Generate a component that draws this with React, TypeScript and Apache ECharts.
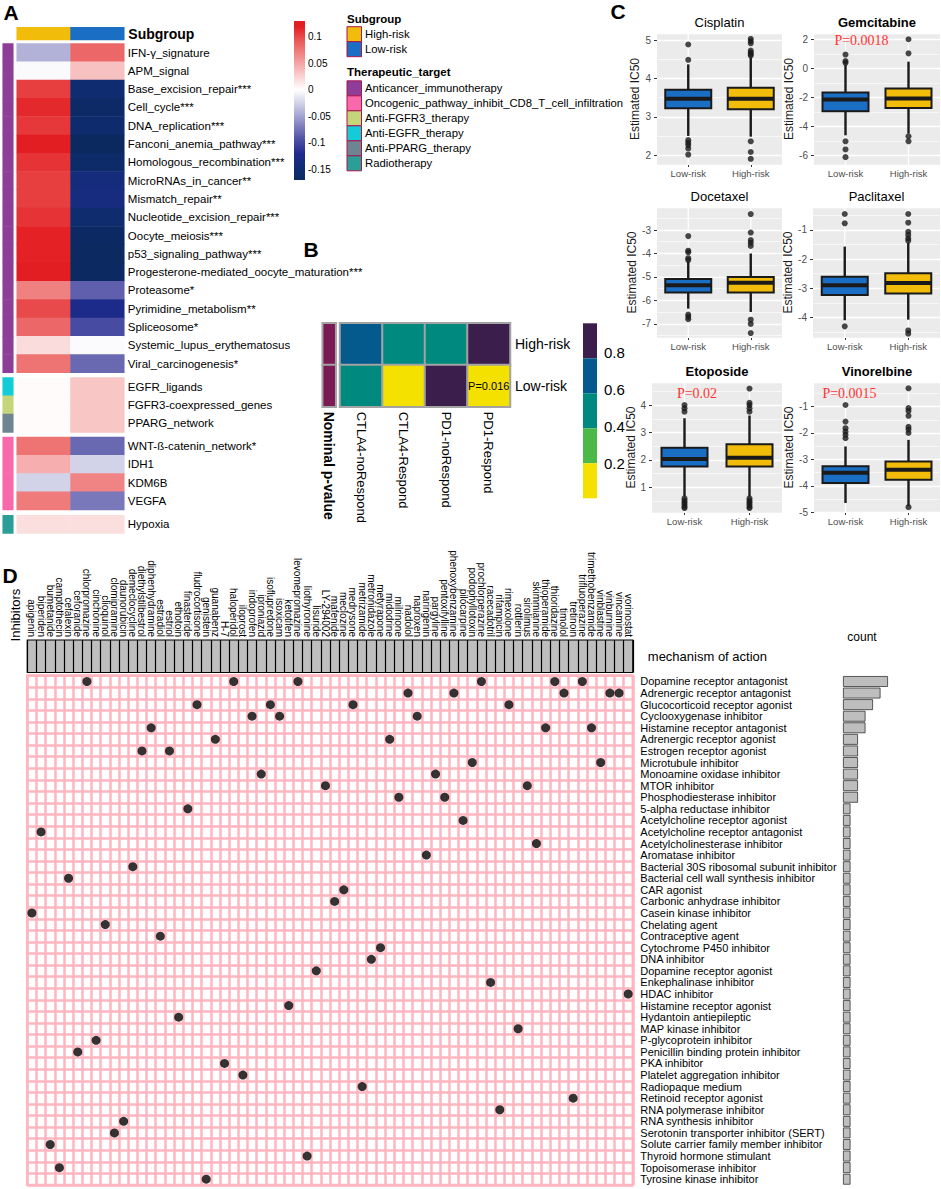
import React, { useEffect, useRef } from "react";
import * as echarts from "echarts";

// ---------------- Panel A data ----------------
const pathways = [
  "IFN-γ_signature", "APM_signal", "Base_excision_repair***", "Cell_cycle***", "DNA_replication***",
  "Fanconi_anemia_pathway***", "Homologous_recombination***", "MicroRNAs_in_cancer**", "Mismatch_repair**",
  "Nucleotide_excision_repair***", "Oocyte_meiosis***", "p53_signaling_pathway***",
  "Progesterone-mediated_oocyte_maturation***", "Proteasome*", "Pyrimidine_metabolism**", "Spliceosome*",
  "Systemic_lupus_erythematosus", "Viral_carcinogenesis*",
  "EGFR_ligands", "FGFR3-coexpressed_genes", "PPARG_network",
  "WNT-ß-catenin_network*", "IDH1", "KDM6B", "VEGFA",
  "Hypoxia",
];
const pathwayBlock = [0, 0, 0, 0, 0, 0, 0, 0, 0, 0, 0, 0, 0, 0, 0, 0, 0, 0, 1, 1, 1, 2, 2, 2, 2, 3];
const therapeuticTargets = [
  "Anticancer_immunotherapy",
  "Oncogenic_pathway_inhibit_CD8_T_cell_infiltration",
  "Anti-FGFR3_therapy",
  "Anti-EGFR_therapy",
  "Anti-PPARG_therapy",
  "Radiotherapy",
];
const pathwayTarget = [
  ...Array(18).fill("Anticancer_immunotherapy"),
  "Anti-EGFR_therapy", "Anti-FGFR3_therapy", "Anti-PPARG_therapy",
  "Oncogenic_pathway_inhibit_CD8_T_cell_infiltration", "Oncogenic_pathway_inhibit_CD8_T_cell_infiltration",
  "Oncogenic_pathway_inhibit_CD8_T_cell_infiltration", "Oncogenic_pathway_inhibit_CD8_T_cell_infiltration",
  "Radiotherapy",
];
const subgroups = ["High-risk", "Low-risk"];
const highRiskScore = [
  -0.042, -0.003, 0.105, 0.115, 0.108, 0.12, 0.11, 0.105, 0.105, 0.11, 0.118, 0.118, 0.12,
  0.07, 0.1, 0.085, 0.02, 0.078, 0.002, 0.002, 0.002, 0.078, 0.045, -0.025, 0.073, 0.018,
];
const lowRiskScore = [
  0.085, 0.035, -0.15, -0.165, -0.155, -0.175, -0.16, -0.138, -0.135, -0.152, -0.17, -0.172, -0.172,
  -0.085, -0.125, -0.098, -0.002, -0.08, 0.032, 0.032, 0.032, -0.08, -0.025, 0.068, -0.072, 0.018,
];
const heatLegendTicks = [0.1, 0.05, 0, -0.05, -0.1, -0.15];

// ---------------- Panel B data ----------------
const submapCols = ["CTLA4-noRespond", "CTLA4-Respond", "PD1-noRespond", "PD1-Respond"];
const submapRows = ["High-risk", "Low-risk"];
const submapHigh = [0.7, 0.5, 0.5, 0.9];
const submapLow = [0.5, 0.12, 0.9, 0.016];
const submapLegendTicks = [0.8, 0.6, 0.4, 0.2];

// ---------------- Panel C data ----------------
const drugsC = ["Cisplatin", "Gemcitabine", "Docetaxel", "Paclitaxel", "Etoposide", "Vinorelbine"];
const riskGroups = ["Low-risk", "High-risk"];
// [lower whisker, Q1, median, Q3, upper whisker]
const boxLow = [
  [2.5, 3.22, 3.47, 3.71, 4.37],
  [-4.6, -2.94, -2.14, -1.66, 0.25],
  [-6.35, -5.66, -5.35, -5.09, -4.35],
  [-4.1, -3.23, -2.9, -2.61, -1.57],
  [0.67, 1.76, 2.04, 2.45, 3.52],
  [-4.65, -3.89, -3.51, -3.26, -2.51],
];
const boxHigh = [
  [2.48, 3.2, 3.47, 3.76, 4.55],
  [-4.48, -2.72, -2.07, -1.38, 0.46],
  [-6.49, -5.66, -5.25, -5.0, -4.0],
  [-4.08, -3.18, -2.82, -2.49, -1.44],
  [0.67, 1.76, 2.08, 2.57, 3.62],
  [-4.77, -3.77, -3.39, -3.08, -2.26],
];
const outliersLow = [
  [4.89, 4.49, 2.39, 2.32, 2.26, 2.17, 2.01],
  [0.95, 0.5, 0.38, -5.01, -5.57, -6.1],
  [-3.26, -3.88, -3.95, -4.2, -4.28, -6.6, -6.7, -6.8],
  [-0.45, -0.77, -4.31],
  [4.0, 3.88, 3.76, 0.6, 0.52, 0.45, 0.38, 0.3, 0.25],
  [-0.94, -1.57, -1.82, -1.95, -2.07, -2.2],
];
const outliersHigh = [
  [5.04, 4.98, 4.92, 4.73, 4.68, 4.64, 4.6, 2.36, 2.08, 1.9],
  [2.0, 1.03, -4.67, -5.01],
  [-2.32, -3.11, -3.43, -3.54, -3.68, -6.82, -7.0, -7.39],
  [-0.45, -0.75, -1.06, -1.17, -1.29, -1.37, -4.45, -4.56],
  [4.6, 4.08, 4.0, 3.88, 3.76, 0.6, 0.52, 0.45, 0.38, 0.3, 0.25],
  [-0.31, -1.06, -1.17, -1.35, -1.77, -1.87, -2.0, -4.81],
];
const pValueText = ["", "P=0.0018", "", "", "P=0.02", "P=0.0015"];

// ---------------- Panel D data ----------------
const drugsD = [
  "apigenin", "biperiden", "bumetanide", "camptothecin", "cefalexin", "ceforanide", "chlorpromazine",
  "cinchonine", "clioquinol", "clomipramine", "daunorubicin", "demeclocycline", "diethylstilbestrol",
  "diphenhydramine", "estradiol", "estriol", "ethotoin", "finasteride", "fludrocortisone", "genistein",
  "guanabenz", "H-7", "haloperidol", "iloprost", "indoprofen", "iproniazid", "isoflupredone", "isoxicam",
  "ketotifen", "levomepromazine", "liothyronine", "lisuride", "LY-294002", "mafenide", "meclozine",
  "medrysone", "metrizamide", "metronidazole", "metyrapone", "midodrine", "milrinone", "nadolol",
  "naproxen", "naringenin", "pargyline", "pentoxifylline", "phenoxybenzamine", "pilocarpine",
  "podophyllotoxin", "prochlorperazine", "racecadotril", "rifampicin", "rimexolone", "rottlerin",
  "sirolimus", "skimmianine", "thioperamide", "thioridazine", "timolol", "tretinoin", "trifluoperazine",
  "trimethobenzamide", "vinblastine", "vinburnine", "vincamine", "vorinostat",
];
const mechanisms = [
  "Dopamine receptor antagonist", "Adrenergic receptor antagonist", "Glucocorticoid receptor agonist",
  "Cyclooxygenase inhibitor", "Histamine receptor antagonist", "Adrenergic receptor agonist",
  "Estrogen receptor agonist", "Microtubule inhibitor", "Monoamine oxidase inhibitor", "MTOR inhibitor",
  "Phosphodiesterase inhibitor", "5-alpha reductase inhibitor", "Acetylcholine receptor agonist",
  "Acetylcholine receptor antagonist", "Acetylcholinesterase inhibitor", "Aromatase inhibitor",
  "Bacterial 30S ribosomal subunit inhibitor", "Bacterial cell wall synthesis inhibitor", "CAR agonist",
  "Carbonic anhydrase inhibitor", "Casein kinase inhibitor", "Chelating agent", "Contraceptive agent",
  "Cytochrome P450 inhibitor", "DNA inhibitor", "Dopamine receptor agonist", "Enkephalinase inhibitor",
  "HDAC inhibitor", "Histamine receptor agonist", "Hydantoin antiepileptic", "MAP kinase inhibitor",
  "P-glycoprotein inhibitor", "Penicillin binding protein inhibitor", "PKA inhibitor",
  "Platelet aggregation inhibitor", "Radiopaque medium", "Retinoid receptor agonist",
  "RNA polymerase inhibitor", "RNA synthesis inhibitor", "Serotonin transporter inhibitor (SERT)",
  "Solute carrier family member inhibitor", "Thyroid hormone stimulant", "Topoisomerase inhibitor",
  "Tyrosine kinase inhibitor",
];
const drugMechanism = [
  "Casein kinase inhibitor", "Acetylcholine receptor antagonist", "Solute carrier family member inhibitor",
  "Topoisomerase inhibitor", "Bacterial cell wall synthesis inhibitor", "Penicillin binding protein inhibitor",
  "Dopamine receptor antagonist", "P-glycoprotein inhibitor", "Chelating agent",
  "Serotonin transporter inhibitor (SERT)", "RNA synthesis inhibitor", "Bacterial 30S ribosomal subunit inhibitor",
  "Estrogen receptor agonist", "Histamine receptor antagonist", "Contraceptive agent", "Estrogen receptor agonist",
  "Hydantoin antiepileptic", "5-alpha reductase inhibitor", "Glucocorticoid receptor agonist",
  "Tyrosine kinase inhibitor", "Adrenergic receptor agonist", "PKA inhibitor", "Dopamine receptor antagonist",
  "Platelet aggregation inhibitor", "Cyclooxygenase inhibitor", "Monoamine oxidase inhibitor",
  "Glucocorticoid receptor agonist", "Cyclooxygenase inhibitor", "Histamine receptor agonist",
  "Dopamine receptor antagonist", "Thyroid hormone stimulant", "Dopamine receptor agonist", "MTOR inhibitor",
  "Carbonic anhydrase inhibitor", "CAR agonist", "Glucocorticoid receptor agonist", "Radiopaque medium",
  "DNA inhibitor", "Cytochrome P450 inhibitor", "Adrenergic receptor agonist", "Phosphodiesterase inhibitor",
  "Adrenergic receptor antagonist", "Cyclooxygenase inhibitor", "Aromatase inhibitor",
  "Monoamine oxidase inhibitor", "Phosphodiesterase inhibitor", "Adrenergic receptor antagonist",
  "Acetylcholine receptor agonist", "Microtubule inhibitor", "Dopamine receptor antagonist",
  "Enkephalinase inhibitor", "RNA polymerase inhibitor", "Glucocorticoid receptor agonist",
  "MAP kinase inhibitor", "MTOR inhibitor", "Acetylcholinesterase inhibitor", "Histamine receptor antagonist",
  "Dopamine receptor antagonist", "Adrenergic receptor antagonist", "Retinoid receptor agonist",
  "Dopamine receptor antagonist", "Histamine receptor antagonist", "Microtubule inhibitor",
  "Adrenergic receptor antagonist", "Adrenergic receptor antagonist", "HDAC inhibitor",
];

// ---------------- styles ----------------
const FONT = '"Liberation Sans", Arial, Helvetica, sans-serif';
const SERIF = '"Liberation Serif", "DejaVu Serif", serif';
const HEAT_STOPS: [number, string][] = [
  [-0.18, "#0B285C"], [-0.15, "#0F2C70"], [-0.12, "#1F2B8E"], [-0.09, "#5656A8"], [-0.06, "#8F8FC6"],
  [-0.03, "#C9C9E4"], [0, "#FFFFFF"], [0.03, "#F9CACA"], [0.06, "#F29292"], [0.09, "#EB5E5E"], [0.12, "#E31E22"],
];
const CAT_KEYS = [...subgroups, ...therapeuticTargets, "nominal"];
const CAT_COLORS = ["#F2BC0A", "#1A6FC4", "#8E3D98", "#F868AA", "#C5D67A", "#14CCD8", "#6E8490", "#2C9E98", "#7B1A55"];
const SUBMAP_COLORS = ["#F5E100", "#4CB847", "#00897E", "#045A8D", "#3C1E4D"];
const BOX_COLORS = ["#1A6FC4", "#F2BC0A"];
const PINK = "#FFB6C1";

function txt(x: number, y: number, text: string, o: any = {}) {
  const font = `${o.weight || "normal"} ${o.size || 12}px ${o.family || FONT}`;
  return {
    type: "text", x, y, rotation: o.rotation || 0, silent: true, z: 10,
    style: {
      text, fill: o.color || "#000", font,
      textAlign: o.align || "left", align: o.align || "left",
      textVerticalAlign: o.valign || "middle", verticalAlign: o.valign || "middle",
    },
  };
}

function buildOption() {
  const grid: any[] = [], xAxis: any[] = [], yAxis: any[] = [], series: any[] = [], visualMap: any[] = [], graphic: any[] = [];
  const addGrid = (g: any) => { grid.push({ show: false, containLabel: false, ...g }); return grid.length - 1; };
  const addX = (a: any) => { xAxis.push(a); return xAxis.length - 1; };
  const addY = (a: any) => { yAxis.push(a); return yAxis.length - 1; };
  const cat = (gi: number, data: string[], extra: any = {}) => ({
    gridIndex: gi, type: "category", data,
    axisLine: { show: false }, axisTick: { show: false }, axisLabel: { show: false }, splitLine: { show: false },
    ...extra,
  });
  const catSeries: number[] = [];
  const catIdx = (k: string) => CAT_KEYS.indexOf(k);

  // ===== Panel A =====
  {
    const gi = addGrid({ left: 16.7, top: 27.3, width: 107.6, height: 12.7 });
    const xi = addX(cat(gi, subgroups));
    const yi = addY(cat(gi, ["Subgroup"], { position: "right", axisLabel: { show: true, margin: 4, fontSize: 14, fontWeight: "bold", color: "#000", fontFamily: FONT } }));
    catSeries.push(series.length);
    series.push({ type: "heatmap", xAxisIndex: xi, yAxisIndex: yi, data: subgroups.map((s, i) => [i, 0, catIdx(s)]) });
  }
  const blockTops = [43.4, 377.5, 436.9, 515.2];
  const ROW_H = 18.3;
  const heatSeries: number[] = [];
  blockTops.forEach((top, b) => {
    const idx = pathways.map((_, i) => i).filter((i) => pathwayBlock[i] === b);
    const labels = idx.map((i) => pathways[i]);
    const h = idx.length * ROW_H;
    const gi = addGrid({ left: 16.7, top, width: 107.6, height: h });
    const xi = addX(cat(gi, subgroups));
    const yi = addY(cat(gi, labels, { inverse: true, position: "right", axisLabel: { show: true, interval: 0, margin: 3.5, fontSize: 11.5, color: "#000", fontFamily: FONT } }));
    heatSeries.push(series.length);
    series.push({ type: "heatmap", xAxisIndex: xi, yAxisIndex: yi, data: idx.flatMap((i, j) => [[0, j, highRiskScore[i]], [1, j, lowRiskScore[i]]]) });
    const ga = addGrid({ left: 2.7, top, width: 10.6, height: h });
    const xa = addX(cat(ga, ["Therapeutic_target"]));
    const ya = addY(cat(ga, labels, { inverse: true }));
    catSeries.push(series.length);
    series.push({ type: "heatmap", xAxisIndex: xa, yAxisIndex: ya, data: idx.map((i, j) => [0, j, catIdx(pathwayTarget[i])]) });
  });
  visualMap.push({ type: "continuous", show: false, seriesIndex: heatSeries, dimension: 2, min: -0.18, max: 0.12, inRange: { color: HEAT_STOPS.map((s) => s[1]) } });

  // heat legend
  {
    const top = 21, h = 159, vmax = 0.13, span = 0.3;
    const stops: any[] = [{ offset: 0, color: "#E31E22" }];
    HEAT_STOPS.forEach(([v, c]) => { const o = (vmax - v) / span; if (o > 0 && o < 1) stops.push({ offset: o, color: c }); });
    stops.push({ offset: 1, color: "#0C2A62" });
    stops.sort((a, b) => a.offset - b.offset);
    graphic.push({ type: "rect", shape: { x: 294, y: top, width: 11, height: h }, style: { fill: { type: "linear", x: 0, y: 0, x2: 0, y2: 1, colorStops: stops } }, silent: true });
    heatLegendTicks.forEach((v) => graphic.push(txt(308, top + ((vmax - v) / span) * h, String(v), { size: 10 })));
  }
  // subgroup / target legends
  graphic.push(txt(347, 19, "Subgroup", { weight: "bold", size: 11.5 }));
  subgroups.forEach((s, i) => {
    graphic.push({ type: "rect", shape: { x: 347, y: 26.7 + i * 15, width: 14.5, height: 15 }, style: { fill: CAT_COLORS[catIdx(s)], stroke: "#A8174F", lineWidth: 1 }, silent: true });
    graphic.push(txt(365, 34.2 + i * 15, s, { size: 11.3 }));
  });
  graphic.push(txt(347, 72.3, "Therapeutic_target", { weight: "bold", size: 11.5 }));
  therapeuticTargets.forEach((s, i) => {
    graphic.push({ type: "rect", shape: { x: 347, y: 80.8 + i * 15, width: 14.5, height: 15 }, style: { fill: CAT_COLORS[catIdx(s)], stroke: "#A8174F", lineWidth: 1 }, silent: true });
    graphic.push(txt(365, 88.3 + i * 15, s, { size: 11.3 }));
  });

  // ===== Panel B =====
  {
    const gn = addGrid({ left: 322.7, top: 323.3, width: 13, height: 83.4 });
    const xn = addX(cat(gn, ["Nominal p-value"], { axisLabel: { show: true, rotate: -90, margin: 5, fontSize: 14, fontWeight: "bold", color: "#000", fontFamily: FONT } }));
    const yn = addY(cat(gn, submapRows, { inverse: true }));
    catSeries.push(series.length);
    series.push({ type: "heatmap", xAxisIndex: xn, yAxisIndex: yn, itemStyle: { borderColor: "#A3A3A3", borderWidth: 2 }, data: submapRows.map((_, r) => [0, r, catIdx("nominal")]) });

    const gi = addGrid({ left: 340, top: 323.3, width: 170, height: 83.4 });
    const xi = addX(cat(gi, submapCols, { axisLabel: { show: true, interval: 0, rotate: -90, margin: 5, fontSize: 13, color: "#000", fontFamily: FONT } }));
    const yi = addY(cat(gi, submapRows, { inverse: true, position: "right", axisLabel: { show: true, margin: 5, fontSize: 14, color: "#000", fontFamily: FONT } }));
    const sIdx = series.length;
    const data: any[] = [];
    [submapHigh, submapLow].forEach((row, r) => row.forEach((v, c) => {
      if (v < 0.05) data.push({ value: [c, r, v], label: { show: true, formatter: "P=" + v, fontSize: 11, color: "#000", fontFamily: FONT } });
      else data.push([c, r, v]);
    }));
    series.push({ type: "heatmap", xAxisIndex: xi, yAxisIndex: yi, itemStyle: { borderColor: "#A3A3A3", borderWidth: 2 }, data });
    visualMap.push({
      type: "piecewise", show: false, seriesIndex: [sIdx], dimension: 2,
      pieces: SUBMAP_COLORS.map((c, i) => ({ gte: i * 0.2, lt: (i + 1) * 0.2 + (i === 4 ? 0.001 : 0), color: c })),
    });
    // legend bar
    SUBMAP_COLORS.slice().reverse().forEach((c, i) => {
      graphic.push({ type: "rect", shape: { x: 583, y: 323.3 + i * 35, width: 14, height: 35 }, style: { fill: c }, silent: true });
    });
    const labY = [352, 389, 426, 463];
    submapLegendTicks.forEach((v, i) => graphic.push(txt(604, labY[i], String(v), { size: 15 })));
  }
  visualMap.push({ type: "piecewise", show: false, seriesIndex: catSeries, dimension: 2, pieces: CAT_COLORS.map((c, i) => ({ value: i, color: c })) });

  // ===== Panel C =====
  const CL = [
    { left: 657, top: 33, width: 125, height: 132, min: 1.74, max: 5.19, split: 3, gap: 16, px: 0, py: 0 },
    { left: 814, top: 33, width: 126, height: 132, min: -6.64, max: 2.43, split: 5, gap: 16, px: 861.5, py: 40 },
    { left: 657, top: 207, width: 125, height: 131, min: -7.6, max: -2.02, split: 5, gap: 16, px: 0, py: 0 },
    { left: 813, top: 207, width: 127, height: 131, min: -4.71, max: -0.21, split: 5, gap: 15, px: 0, py: 0 },
    { left: 652, top: 382, width: 130, height: 131, min: 0.07, max: 4.84, split: 5, gap: 11, px: 697, py: 393 },
    { left: 814, top: 382, width: 126, height: 131, min: -5.03, max: -0.07, split: 5, gap: 14, px: 849.5, py: 393 },
  ];
  const renderBox = (params: any, api: any) => {
    const c = api.value(0);
    const p = [1, 2, 3, 4, 5].map((d) => api.coord([c, api.value(d)]));
    const x = p[0][0];
    const cs = params.coordSys;
    const bw = 46;
    return {
      type: "group",
      children: [
        { type: "line", shape: { x1: x, y1: cs.y, x2: x, y2: cs.y + cs.height }, style: { stroke: "#fff", lineWidth: 1.3 } },
        { type: "line", shape: { x1: x, y1: p[0][1], x2: x, y2: p[4][1] }, style: { stroke: "#1a1a1a", lineWidth: 2.4 } },
        { type: "rect", shape: { x: x - bw / 2, y: p[3][1], width: bw, height: p[1][1] - p[3][1] }, style: { fill: BOX_COLORS[params.dataIndex], stroke: "#1a1a1a", lineWidth: 2 } },
        { type: "line", shape: { x1: x - bw / 2, y1: p[2][1], x2: x + bw / 2, y2: p[2][1] }, style: { stroke: "#1a1a1a", lineWidth: 4 } },
      ],
    };
  };
  drugsC.forEach((d, k) => {
    const L = CL[k];
    const gi = addGrid({ left: L.left, top: L.top, width: L.width, height: L.height, show: true, backgroundColor: "#EBEBEB", borderWidth: 0 });
    const xi = addX({
      gridIndex: gi, type: "category", data: riskGroups,
      axisLine: { show: false }, axisTick: { show: true, alignWithLabel: true, length: 2, lineStyle: { color: "#333" } },
      axisLabel: { fontSize: 9.5, color: "#4D4D4D", margin: 3, fontFamily: FONT }, splitLine: { show: false },
    });
    const yi = addY({
      gridIndex: gi, type: "value", min: L.min, max: L.max, splitNumber: L.split,
      name: "Estimated IC50", nameLocation: "middle", nameGap: L.gap, nameTextStyle: { fontSize: 12, color: "#1a1a1a", fontFamily: FONT },
      axisLine: { show: false }, axisTick: { show: true, length: 3, lineStyle: { color: "#333" } },
      axisLabel: { showMinLabel: false, showMaxLabel: false, fontSize: 10, color: "#4D4D4D", margin: 6, fontFamily: FONT },
      splitLine: { show: true, lineStyle: { color: "#fff", width: 1.3 } },
      minorTick: { show: false, splitNumber: 2 },
      minorSplitLine: { show: true, lineStyle: { color: "#fff", width: 0.6 } },
    });
    series.push({
      type: "custom", xAxisIndex: xi, yAxisIndex: yi, renderItem: renderBox, z: 2,
      encode: { x: 0, y: [1, 2, 3, 4, 5] },
      data: [[0, ...boxLow[k]], [1, ...boxHigh[k]]],
    });
    series.push({
      type: "scatter", xAxisIndex: xi, yAxisIndex: yi, z: 3, symbolSize: 6, itemStyle: { color: "#1a1a1a" },
      data: [...outliersLow[k].map((v) => [0, v]), ...outliersHigh[k].map((v) => [1, v])],
    });
    graphic.push(txt(L.left + L.width / 2, L.top - 10.3, d, { size: 13, weight: pValueText[k] ? "bold" : "normal", align: "center" }));
    if (pValueText[k]) graphic.push(txt(L.px, L.py, pValueText[k], { size: 14, family: SERIF, color: "#FF3333", align: "center" }));
  });

  // ===== Panel D =====
  {
    const left = 27.3, width = 605.5;
    const gb = addGrid({ left, top: 640, width, height: 32.5, show: true, backgroundColor: "#BEBEBE", borderColor: "#000", borderWidth: 1.2 });
    addX(cat(gb, drugsD, {
      position: "top",
      axisLabel: { show: true, interval: 0, rotate: 90, margin: 3, fontSize: 10, color: "#000", fontFamily: FONT },
      splitLine: { show: true, interval: 0, lineStyle: { color: "#000", width: 1.2 } },
    }));
    addY(cat(gb, ["mechanism of action"], { position: "right", axisLabel: { show: true, margin: 15, fontSize: 13, color: "#000", fontFamily: FONT } }));

    const gm = addGrid({ left, top: 675.7, width, height: 509.3, show: true, backgroundColor: "#fff", borderColor: PINK, borderWidth: 2.5 });
    const xm = addX(cat(gm, drugsD, { splitLine: { show: true, interval: 0, lineStyle: { color: PINK, width: 2.5 } } }));
    const ym = addY(cat(gm, mechanisms, {
      inverse: true, position: "right",
      axisLabel: { show: true, interval: 0, margin: 7.5, fontSize: 11, color: "#000", fontFamily: FONT },
      splitLine: { show: true, interval: 0, lineStyle: { color: PINK, width: 2.5 } },
    }));
    series.push({
      type: "scatter", xAxisIndex: xm, yAxisIndex: ym, symbolSize: 9, itemStyle: { color: "#000" },
      data: drugsD.map((_, i) => [i, mechanisms.indexOf(drugMechanism[i])]),
    });

    const gc = addGrid({ left: 843, top: 675.7, width: 52.5, height: 509.3 });
    const xc = addX({ gridIndex: gc, type: "value", min: 0, max: 7, show: false, splitLine: { show: false } });
    const yc = addY(cat(gc, mechanisms, { inverse: true }));
    series.push({
      type: "bar", xAxisIndex: xc, yAxisIndex: yc, barCategoryGap: "6%",
      itemStyle: { color: "#BEBEBE", borderColor: "#333", borderWidth: 0.8 },
      data: mechanisms.map((m) => drugMechanism.filter((x) => x === m).length),
    });
    graphic.push(txt(862, 637, "count", { size: 12, align: "center" }));
    graphic.push(txt(15, 615, "Inhibitors", { size: 13, align: "center", rotation: Math.PI / 2 }));
  }

  // panel letters
  graphic.push(txt(11, 12, "A", { weight: "bold", size: 21, align: "center" }));
  graphic.push(txt(311, 249, "B", { weight: "bold", size: 21, align: "center" }));
  graphic.push(txt(618, 11, "C", { weight: "bold", size: 21, align: "center" }));
  graphic.push(txt(10, 575, "D", { weight: "bold", size: 21, align: "center" }));

  return {
    animation: false,
    backgroundColor: "#fff",
    textStyle: { fontFamily: FONT },
    grid, xAxis, yAxis, series, visualMap, graphic,
  };
}

export default function App() {
  const ref = useRef<HTMLDivElement>(null);
  useEffect(() => {
    if (!ref.current) return;
    const chart = echarts.init(ref.current, null, { renderer: "svg", width: 941, height: 1189 });
    chart.setOption(buildOption() as any);
    return () => chart.dispose();
  }, []);
  return <div ref={ref} style={{ position: "absolute", left: 0, top: 0, width: 941, height: 1189, background: "#fff" }} />;
}
